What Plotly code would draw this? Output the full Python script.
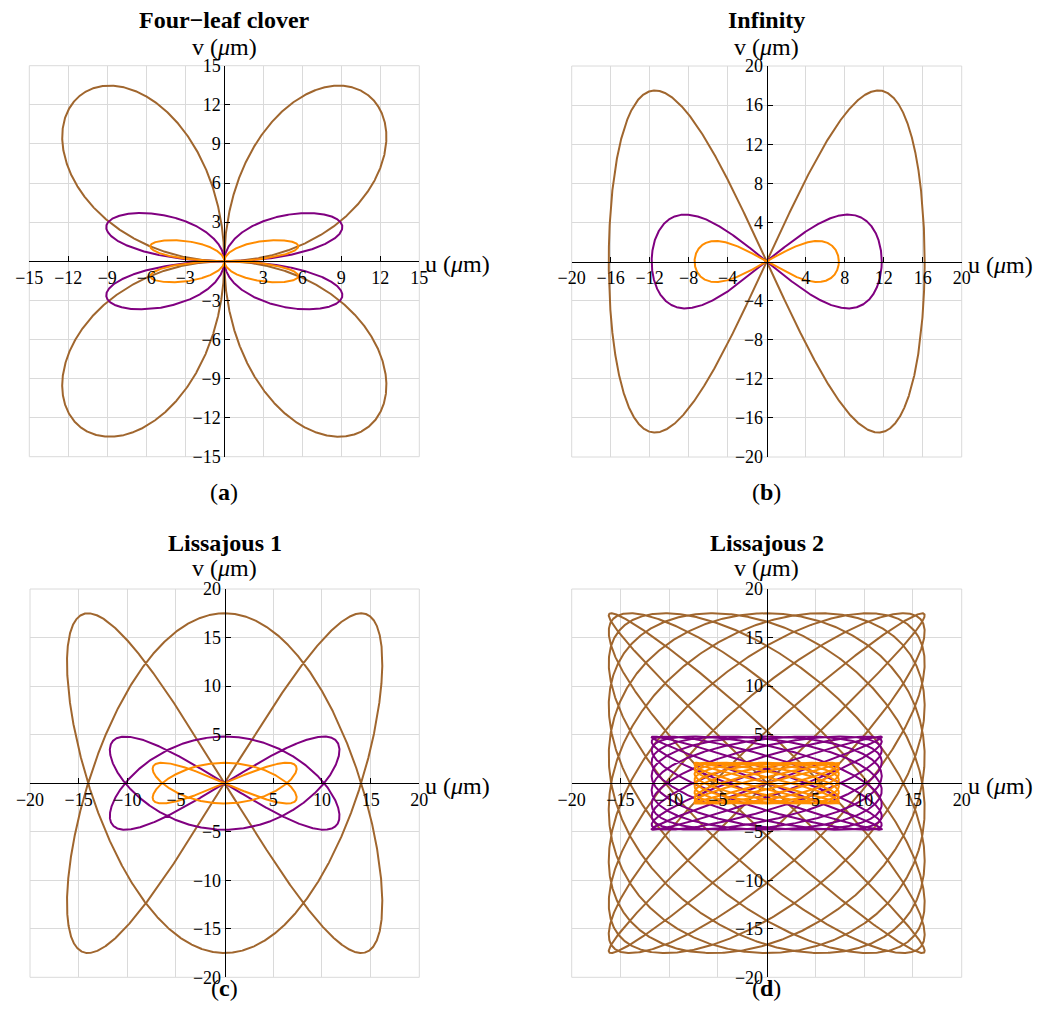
import numpy as np
import plotly.graph_objects as go

# ---------------- data ----------------
panel_titles = ["Four\u2212leaf clover", "Infinity", "Lissajous 1", "Lissajous 2"]
panel_tags = ["a", "b", "c", "d"]
panel_kind = ["clover", "infinity", "lissajous", "lissajous"]
axis_limits = [15, 20, 20, 20]
tick_steps = [3, 4, 5, 5]

# three trajectories (brown, purple, orange): amplitudes along u and v (µm)
series_colors = ["#A0662E", "#800080", "#FF8C00"]
amp_u = [16.2, 11.8, 7.4]
amp_v = [17.5, 4.8, 2.1]

# frequency pairs (u, v) of each pattern
freq_u = [1, 1, 2, 10]
freq_v = [2, 2, 3, 9]

W, H = 1052, 1028
# plot-area boxes in pixels: left, right, top, bottom
boxes = [(29.3, 419.3, 65.7, 456.7), (571.7, 961.7, 66.0, 457.0),
         (30.0, 419.3, 589.0, 977.3), (571.7, 961.7, 589.0, 977.3)]
title_y = [20, 20, 543, 543]
vlabel_y = [47, 47, 568, 568]
tag_y = [492, 492, 988, 988]

FONT = "Liberation Serif"


def curve(kind, fu, fv, au, av):
    t = np.linspace(0, 2 * np.pi, 6000)
    if kind == "clover":
        u = au * np.sin(2 * t) * np.cos(t)
        v = av * np.sin(2 * t) * np.sin(t)
    elif kind == "infinity":
        u = au * np.cos(fu * t)
        v = av * np.sin(fv * t)
    else:
        u = au * np.sin(fu * t)
        v = av * np.cos(fv * t)
    return u, v


def fmt(x):
    return ("\u2212" + str(abs(x))) if x < 0 else str(x)


fig = go.Figure()
layout = dict(width=W, height=H,
              margin=dict(l=0, r=0, t=0, b=0, pad=0, autoexpand=False),
              paper_bgcolor="white", plot_bgcolor="white", showlegend=False)
annotations = []
shapes = []


def label(text, x, y, size=24, xanchor="center"):
    return dict(text=text, xref="paper", yref="paper", x=x, y=y, showarrow=False,
                xanchor=xanchor, yanchor="middle",
                font=dict(family=FONT, size=size, color="black"))


for i in range(4):
    L, R, T, B = boxes[i]
    xd = [L / W, R / W]
    yd = [1 - B / H, 1 - T / H]
    xmid = (xd[0] + xd[1]) / 2
    ymid = (yd[0] + yd[1]) / 2
    lim = axis_limits[i]
    step = tick_steps[i]
    ticks = [k for k in range(-lim, lim + 1, step) if k != 0]
    sfx = "" if i == 0 else str(i + 1)
    xa, ya = "x" + sfx, "y" + sfx
    common = dict(range=[-lim, lim], tickvals=ticks, ticktext=[fmt(k) for k in ticks],
                  ticks="inside", ticklen=5, tickwidth=1, tickcolor="black",
                  showline=True, linecolor="black", linewidth=1,
                  showgrid=True, gridcolor="#DADADA", gridwidth=1, zeroline=False,
                  tickfont=dict(family=FONT, size=18, color="black"),
                  anchor="free", automargin=False)
    layout["xaxis" + sfx] = dict(common, domain=xd, position=ymid)
    layout["yaxis" + sfx] = dict(common, domain=yd, position=xmid)
    shapes.append(dict(type="rect", xref="paper", yref="paper", x0=xd[0], x1=xd[1],
                       y0=yd[0], y1=yd[1], line=dict(color="#DADADA", width=1),
                       layer="below"))
    for s in range(3):
        u, v = curve(panel_kind[i], freq_u[i], freq_v[i], amp_u[s], amp_v[s])
        fig.add_trace(go.Scatter(x=u, y=v, mode="lines", xaxis=xa, yaxis=ya,
                                 line=dict(color=series_colors[s], width=2),
                                 hoverinfo="skip"))
    annotations.append(label("<b>" + panel_titles[i] + "</b>", xmid, 1 - title_y[i] / H))
    annotations.append(label("v (<i>\u03bc</i>m)", xmid, 1 - vlabel_y[i] / H))
    annotations.append(label("u (<i>\u03bc</i>m)", (R + 4) / W, ymid - 3 / H, xanchor="left"))
    annotations.append(label("(<b>" + panel_tags[i] + "</b>)", xmid, 1 - tag_y[i] / H))

layout["annotations"] = annotations
layout["shapes"] = shapes
fig.update_layout(**layout)
fig.write_html("out.html")
